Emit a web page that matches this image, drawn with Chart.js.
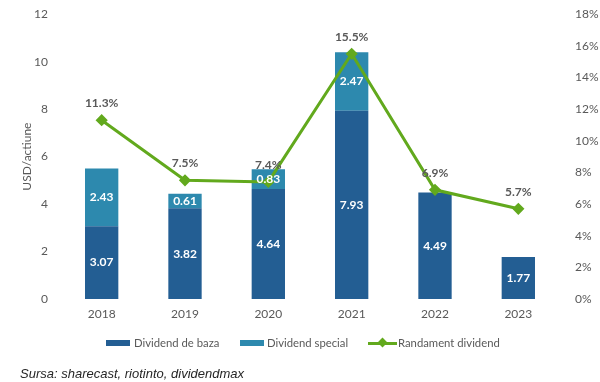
<!DOCTYPE html>
<html><head><meta charset="utf-8">
<script src="https://cdn.jsdelivr.net/npm/chart.js@4.4.1/dist/chart.umd.min.js"></script>
<style>
html,body{margin:0;padding:0;background:#fff;overflow:hidden;}
#wrap{position:relative;width:600px;height:382px;overflow:hidden;}
canvas{position:absolute;left:0;top:-8px;}
.lg{position:absolute;top:336px;font:11.3px Lato, "Open Sans", sans-serif;color:#595959;white-space:nowrap;}
.sw{position:absolute;top:340px;height:6px;width:24px;}
#src{position:absolute;left:20px;top:366px;font:italic 13px "Liberation Sans", Arial, sans-serif;color:#262626;}
</style></head>
<body><div id="wrap">
<canvas id="c" width="600" height="390"></canvas>
<div class="sw" style="left:106px;background:#235E93"></div><div class="lg" style="left:134px">Dividend de baza</div>
<div class="sw" style="left:240px;background:#2D89AE"></div><div class="lg" style="left:267px">Dividend special</div>
<div class="sw" style="left:368px;top:342px;height:3px;width:29px;background:#62A91D"></div>
<div class="sw" style="left:379px;top:339px;width:7px;height:7px;background:#62A91D;transform:rotate(45deg)"></div>
<div class="lg" style="left:398px">Randament dividend</div>
<div id="src">Sursa: sharecast, riotinto, dividendmax</div>
</div>
<script>
const years = ["2018","2019","2020","2021","2022","2023"];
const baseDiv = [3.07, 3.82, 4.64, 7.93, 4.49, 1.77];
const specialDiv = [2.43, 0.61, 0.83, 2.47, null, null];
const yieldPct = [11.3, 7.5, 7.4, 15.5, 6.9, 5.7];
const leftMax = 12, leftStep = 2;
const rightMax = 18, rightStep = 2;

const FONT = 'Lato, "Open Sans", sans-serif';
const GREY = '#595959';

const labelPlugin = {
  id: 'labels',
  afterDatasetsDraw(chart) {
    const ctx = chart.ctx;
    ctx.save();
    ctx.textAlign = 'center';
    ctx.textBaseline = 'middle';
    ctx.font = 'bold 12px ' + FONT;
    [0,1].forEach(di => {
      const meta = chart.getDatasetMeta(di);
      const data = chart.data.datasets[di].data;
      meta.data.forEach((el, i) => {
        if (data[i] == null) return;
        const p = el.getProps(['x','y','base'], true);
        ctx.fillStyle = '#ffffff';
        ctx.fillText(data[i].toFixed(2), p.x, (p.y + p.base) / 2);
      });
    });
    const lm = chart.getDatasetMeta(2);
    ctx.fillStyle = GREY;
    lm.data.forEach((el, i) => {
      const p = el.getProps(['x','y'], true);
      ctx.fillText(yieldPct[i].toFixed(1) + '%', p.x, p.y - 17);
    });
    ctx.restore();
  }
};

new Chart(document.getElementById('c'), {
  type: 'bar',
  data: {
    labels: years,
    datasets: [
      {label: 'Dividend de baza', data: baseDiv, backgroundColor: '#235E93', stack: 's', yAxisID: 'y', order: 1,
       categoryPercentage: 1, barPercentage: 0.4},
      {label: 'Dividend special', data: specialDiv, backgroundColor: '#2D89AE', stack: 's', yAxisID: 'y', order: 1,
       categoryPercentage: 1, barPercentage: 0.4},
      {type: 'line', label: 'Randament dividend', data: yieldPct, yAxisID: 'y2', order: 0,
       borderColor: '#62A91D', backgroundColor: '#62A91D', borderWidth: 3, pointStyle: 'rectRot',
       pointRadius: 4, pointHoverRadius: 4, tension: 0}
    ]
  },
  options: {
    responsive: false,
    animation: false,
    events: [],
    layout: {autoPadding: false, padding: {top: 14, bottom: 53, left: 0, right: 0}},
    plugins: {legend: {display: false}, tooltip: {enabled: false}},
    scales: {
      x: {
        stacked: true,
        grid: {display: false, drawTicks: false},
        border: {display: false},
        ticks: {color: GREY, font: {family: FONT, size: 12}, padding: 8},
        afterFit(s) { s.height = 30; }
      },
      y: {
        stacked: true, min: 0, max: leftMax,
        grid: {display: false, drawTicks: false},
        border: {display: false},
        ticks: {stepSize: leftStep, color: GREY, font: {family: FONT, size: 12}, padding: 12},
        title: {display: true, text: 'USD/actiune', color: GREY, font: {family: FONT, size: 12}, padding: {top: 20, bottom: 0}},
        afterFit(s) { s.width = 60; }
      },
      y2: {
        position: 'right', min: 0, max: rightMax,
        grid: {display: false, drawTicks: false},
        border: {display: false},
        ticks: {stepSize: rightStep, color: GREY, font: {family: FONT, size: 12}, padding: 15,
                callback: v => v + '%'},
        afterFit(s) { s.width = 40; }
      }
    }
  },
  plugins: [labelPlugin]
});
</script>
</body></html>
